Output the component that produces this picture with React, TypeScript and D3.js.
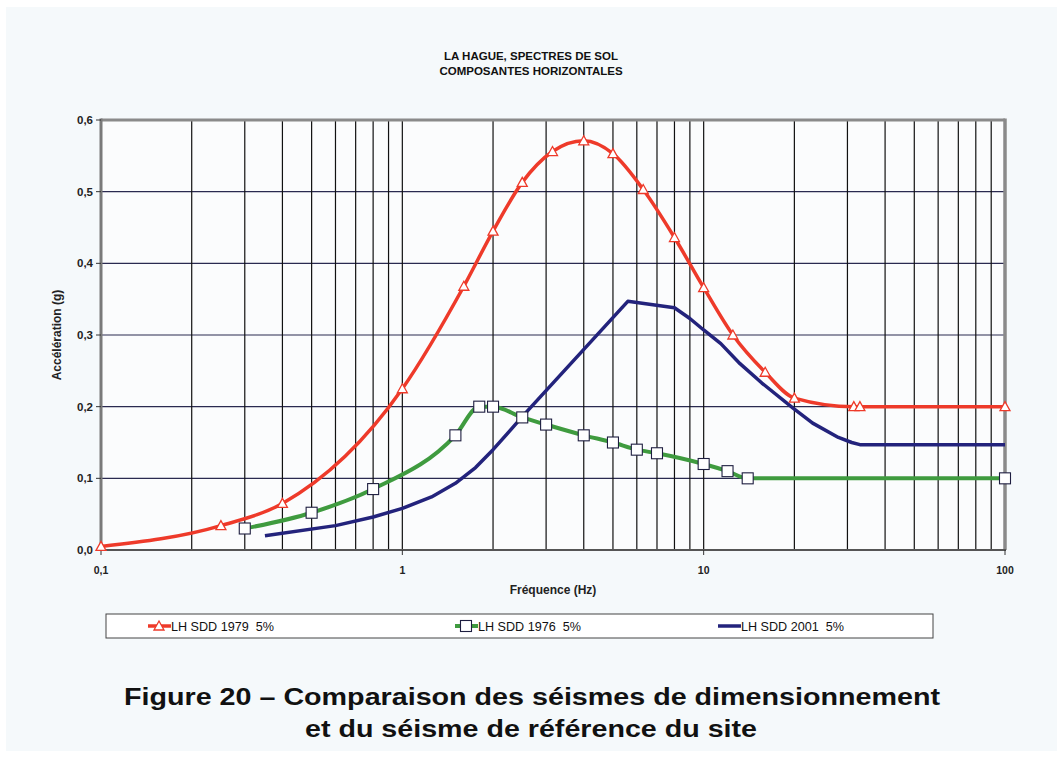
import React from "react";
import * as d3 from "d3";

// courbes (fréquence Hz, accélération g)
const sdd1979Freq = [0.1, 0.25, 0.4, 1, 1.6, 2, 2.5, 3.15, 4, 5, 6.3, 8, 10, 12.5, 16, 20, 31.5, 33, 100];
const sdd1979Acc = [0.005, 0.034, 0.065, 0.225, 0.368, 0.445, 0.513, 0.556, 0.571, 0.553, 0.503, 0.436, 0.366, 0.3, 0.248, 0.212, 0.2, 0.2, 0.2];

const sdd1976Freq = [0.3, 0.5, 0.8, 1.5, 1.8, 2, 2.5, 3, 4, 5, 6, 7, 10, 12, 14, 100];
const sdd1976Acc = [0.03, 0.052, 0.085, 0.16, 0.2, 0.2, 0.185, 0.175, 0.16, 0.15, 0.14, 0.135, 0.12, 0.11, 0.1, 0.1];

const sdd2001Freq = [0.35, 0.6, 0.8, 1, 1.25, 1.5, 1.75, 2, 2.5, 5.6, 8, 9, 10, 11.4, 13.2, 15.6, 19.8, 23, 28, 31, 33, 100];
const sdd2001Acc = [0.02, 0.034, 0.046, 0.058, 0.074, 0.093, 0.115, 0.14, 0.186, 0.347, 0.338, 0.323, 0.307, 0.288, 0.26, 0.233, 0.198, 0.177, 0.157, 0.15, 0.147, 0.147];

const yTicks = [0, 0.1, 0.2, 0.3, 0.4, 0.5, 0.6];
const xLabels = [0.1, 1, 10, 100];
const seriesNames = ["LH SDD 1979  5%", "LH SDD 1976  5%", "LH SDD 2001  5%"];

const W = 1063;
const H = 758;
const left = 101, right = 1005, top = 120, bottom = 550;

const x = d3.scaleLog().domain([0.1, 100]).range([left, right]);
const y = d3.scaleLinear().domain([0, 0.6]).range([bottom, top]);

const RED = "#ee3a2a";
const GREEN = "#3f9b3f";
const BLUE = "#23237c";
const FONT = "'Liberation Sans', Arial, sans-serif";

const toPts = (f: number[], a: number[]) => f.map((v, i) => [v, a[i]] as [number, number]);

const smooth = d3
  .line<[number, number]>()
  .x((d) => x(d[0]))
  .y((d) => y(d[1]))
  .curve(d3.curveMonotoneX);

const straight = d3
  .line<[number, number]>()
  .x((d) => x(d[0]))
  .y((d) => y(d[1]));

const fmt = (v: number) => d3.format(".1f")(v).replace(".", ",");
const fmtX = (v: number) => String(v).replace(".", ",");

function Triangle({ cx, cy }: { cx: number; cy: number }) {
  const s = 5;
  return (
    <path
      d={`M${cx},${cy - s} L${cx + s},${cy + s * 0.8} L${cx - s},${cy + s * 0.8} Z`}
      fill="#fff"
      stroke={RED}
      strokeWidth={1.3}
    />
  );
}

function Square({ cx, cy }: { cx: number; cy: number }) {
  return <rect x={cx - 5.5} y={cy - 5.5} width={11} height={11} fill="#fff" stroke="#1e1e40" strokeWidth={1.1} />;
}

function App() {
  const red = toPts(sdd1979Freq, sdd1979Acc);
  const green = toPts(sdd1976Freq, sdd1976Acc);
  const blue = toPts(sdd2001Freq, sdd2001Acc);
  const gridX = x.ticks().filter((t) => t > 0.1 && t < 100);

  const legendY = 626;
  const legend = [
    { x0: 137, color: RED, w: 3.5, mark: "tri" },
    { x0: 444, color: GREEN, w: 4, mark: "sq" },
    { x0: 707, color: BLUE, w: 3.5, mark: "" },
  ];

  return (
    <svg width={W} height={H} style={{ position: "absolute", left: 0, top: 0 }} fontFamily={FONT}>
      <rect width={W} height={H} fill="#ffffff" />
      <rect x={6} y={7} width={W - 12} height={H - 14} fill="#f5f9fb" />

      <text x={531} y={60} textAnchor="middle" fontSize={11.5} fontWeight="bold" fill="#111">
        LA HAGUE, SPECTRES DE SOL
      </text>
      <text x={531} y={75} textAnchor="middle" fontSize={11.5} fontWeight="bold" fill="#111">
        COMPOSANTES HORIZONTALES
      </text>

      {/* zone de tracé */}
      <rect x={left} y={top} width={right - left} height={bottom - top} fill="#fbfcfd" />

      {yTicks.slice(1, -1).map((t) => (
        <line key={t} x1={left} x2={right} y1={y(t)} y2={y(t)} stroke="#2a2a50" strokeWidth={1.1} />
      ))}
      {gridX.map((t) => (
        <line key={t} x1={x(t)} x2={x(t)} y1={top} y2={bottom} stroke="#111" strokeWidth={1.2} />
      ))}

      {/* cadre */}
      <line x1={left} x2={right} y1={top} y2={top} stroke="#8a8a8a" strokeWidth={3} />
      <line x1={right} x2={right} y1={top - 1.5} y2={bottom} stroke="#8a8a8a" strokeWidth={3.5} />
      <line x1={left} x2={left} y1={top - 1.5} y2={bottom + 1} stroke="#7a7a7a" strokeWidth={3} />
      <line x1={left} x2={right + 1} y1={bottom} y2={bottom} stroke="#555" strokeWidth={2} />

      {yTicks.map((t) => (
        <g key={t}>
          <line x1={left - 5} x2={left} y1={y(t)} y2={y(t)} stroke="#333" strokeWidth={1} />
          <text x={left - 8} y={y(t) + 4} textAnchor="end" fontSize={11.5} fontWeight="bold" fill="#222">
            {fmt(t)}
          </text>
        </g>
      ))}
      {xLabels.map((t) => (
        <g key={t}>
          <line x1={x(t)} x2={x(t)} y1={bottom} y2={bottom + 5} stroke="#333" strokeWidth={1} />
          <text x={x(t)} y={bottom + 24} textAnchor="middle" fontSize={10.5} fontWeight="bold" fill="#222">
            {fmtX(t)}
          </text>
        </g>
      ))}

      <text x={553} y={594} textAnchor="middle" fontSize={12} fontWeight="bold" fill="#222">
        Fréquence (Hz)
      </text>
      <text
        transform={`translate(61,${(top + bottom) / 2}) rotate(-90)`}
        textAnchor="middle"
        fontSize={12}
        fontWeight="bold"
        fill="#222"
      >
        Accélération (g)
      </text>

      {/* courbes */}
      <path d={straight(blue) ?? ""} fill="none" stroke={BLUE} strokeWidth={3.5} strokeLinejoin="round" />
      <path d={smooth(green) ?? ""} fill="none" stroke={GREEN} strokeWidth={4} strokeLinejoin="round" />
      <path d={smooth(red) ?? ""} fill="none" stroke={RED} strokeWidth={3.5} strokeLinejoin="round" />
      {green.map((d, i) => (
        <Square key={i} cx={x(d[0])} cy={y(d[1])} />
      ))}
      {red.map((d, i) => (
        <Triangle key={i} cx={x(d[0])} cy={y(d[1])} />
      ))}

      {/* légende */}
      <rect x={106} y={614} width={827} height={24} fill="#fff" stroke="#444" strokeWidth={1} />
      {legend.map((l, i) => (
        <g key={i}>
          <line x1={l.x0 + 11} x2={l.x0 + 34} y1={legendY} y2={legendY} stroke={l.color} strokeWidth={l.w} />
          {l.mark === "tri" && <Triangle cx={l.x0 + 22} cy={legendY} />}
          {l.mark === "sq" && <Square cx={l.x0 + 22} cy={legendY} />}
          <text
            x={l.x0 + 34}
            y={legendY + 4.5}
            fontSize={13}
            fill="#111"
            textLength={103}
            lengthAdjust="spacingAndGlyphs"
            style={{ whiteSpace: "pre" }}
          >
            {seriesNames[i]}
          </text>
        </g>
      ))}

      <text
        x={124}
        y={705}
        fontSize={23}
        fontWeight="bold"
        fill="#111"
        textLength={816}
        lengthAdjust="spacingAndGlyphs"
      >
        Figure 20 – Comparaison des séismes de dimensionnement
      </text>
      <text
        x={305}
        y={737}
        fontSize={23}
        fontWeight="bold"
        fill="#111"
        textLength={452}
        lengthAdjust="spacingAndGlyphs"
      >
        et du séisme de référence du site
      </text>
    </svg>
  );
}

export default App;
